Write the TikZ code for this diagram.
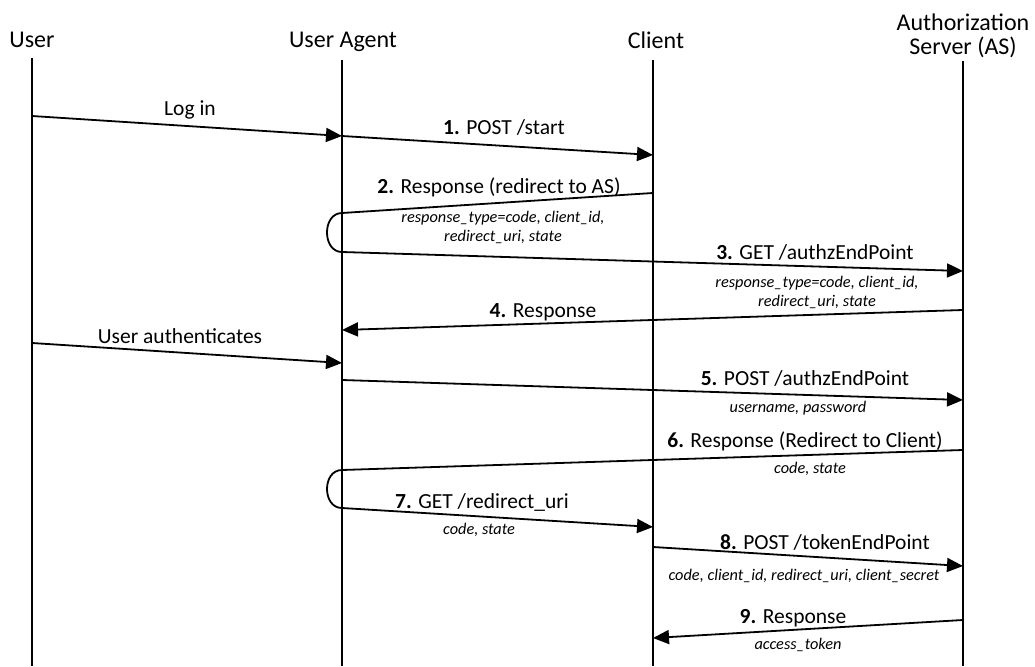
\documentclass[tikz,border=0pt]{standalone}
\usepackage{fontspec}
\setmainfont{Carlito}
\usetikzlibrary{arrows.meta}
\tikzset{
  head/.style={font=\fontsize{24}{28}\selectfont, anchor=base, inner sep=0pt},
  lbl/.style={font=\fontsize{21.5}{24}\selectfont, anchor=base, inner sep=0pt},
  prm/.style={font=\fontsize{16.3}{19}\selectfont\itshape, anchor=base, inner sep=0pt},
  life/.style={line width=1.8pt},
  msg/.style={line width=1.8pt, -{Triangle[length=16pt,width=14pt]}},
}
\begin{document}
\begin{tikzpicture}[x=1pt,y=-1pt]
\useasboundingbox (0,0) rectangle (1035,666);

% participants
\node[head] (hU)  at (32,48)  {User};
\node[head] (hUA) at (343,48) {User Agent};
\node[head] (hC)  at (656,49) {Client};
\node[head] (hAS1) at (963,31) {Authorization};
\node[head] (hAS) at (963,55) {Server (AS)};

% lifelines
\coordinate (tU) at (32,58);   \coordinate (bU) at (32,666);
\coordinate (tUA) at (342,60); \coordinate (bUA) at (342,666);
\coordinate (tC) at (653,60);  \coordinate (bC) at (653,666);
\coordinate (tAS) at (963,61); \coordinate (bAS) at (963,666);
\draw[life] (tU) -- (bU);
\draw[life] (tUA) -- (bUA);
\draw[life] (tC) -- (bC);
\draw[life] (tAS) -- (bAS);

% message end points
\coordinate (a0) at (32,116);  \coordinate (b0) at (342,136);
\coordinate (a1) at (342,136); \coordinate (b1) at (653,155);
\coordinate (a2) at (653,193); \coordinate (b2) at (342,213);
\coordinate (a3) at (342,252); \coordinate (b3) at (963,271);
\coordinate (a4) at (963,310); \coordinate (b4) at (342,330);
\coordinate (aa) at (32,343);  \coordinate (ba) at (342,363);
\coordinate (a5) at (342,380); \coordinate (b5) at (963,400);
\coordinate (a6) at (963,450); \coordinate (b6) at (342,470);
\coordinate (a7) at (342,508); \coordinate (b7) at (653,527);
\coordinate (a8) at (653,547); \coordinate (b8) at (963,566);
\coordinate (a9) at (963,620); \coordinate (b9) at (653,638);

% messages (2/3 and 6/7 turn back at the user agent)
\draw[msg] (a0) -- (b0);
\draw[msg] (a1) -- (b1);
\draw[msg] (a2) -- (b2) .. controls +(-20,0) and +(-20,0) .. (a3) -- (b3);
\draw[msg] (a4) -- (b4);
\draw[msg] (aa) -- (ba);
\draw[msg] (a5) -- (b5);
\draw[msg] (a6) -- (b6) .. controls +(-20,0) and +(-20,0) .. (a7) -- (b7);
\draw[msg] (a8) -- (b8);
\draw[msg] (a9) -- (b9);

% labels
\node[lbl] (l0) at (190,116) {Log in};
\node[lbl] (l1) at (504,135) {\textbf{1.} POST /start};
\node[lbl] (l2) at (499,193) {\textbf{2.} Response (redirect to AS)};
\node[prm] (p2a) at (503,222) {response\_type=code, client\_id,};
\node[prm] (p2b) at (503,241) {redirect\_uri, state};
\node[lbl] (l3) at (815,259) {\textbf{3.} GET /authzEndPoint};
\node[prm] (p3a) at (817,287) {response\_type=code, client\_id,};
\node[prm] (p3b) at (817,306) {redirect\_uri, state};
\node[lbl] (l4) at (543,317) {\textbf{4.} Response};
\node[lbl] (la) at (180,343) {User authenticates};
\node[lbl] (l5) at (805,385) {\textbf{5.} POST /authzEndPoint};
\node[prm] (p5) at (798,412) {username, password};
\node[lbl] (l6) at (805,447) {\textbf{6.} Response (Redirect to Client)};
\node[prm] (p6) at (810,473) {code, state};
\node[lbl] (l7) at (482,508) {\textbf{7.} GET /redirect\_uri};
\node[prm] (p7) at (479,534) {code, state};
\node[lbl] (l8) at (825,549) {\textbf{8.} POST /tokenEndPoint};
\node[prm] (p8) at (804,580) {code, client\_id, redirect\_uri, client\_secret};
\node[lbl] (l9) at (793,623) {\textbf{9.} Response};
\node[prm] (p9) at (798,649) {access\_token};
\end{tikzpicture}
\end{document}
